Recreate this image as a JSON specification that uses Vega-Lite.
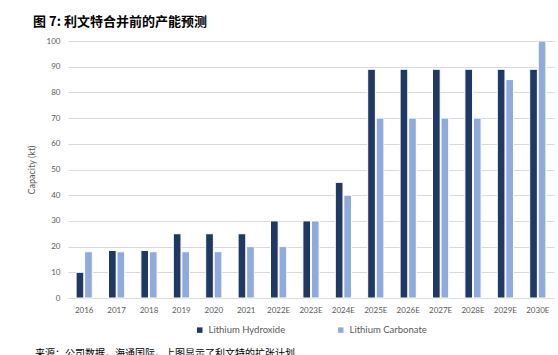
{
  "$schema": "https://vega.github.io/schema/vega-lite/v6.json",
  "background": "white",
  "padding": {"left": 27, "top": 16, "right": 5, "bottom": 0},
  "title": {"text": "图 7: 利文特合并前的产能预测", "anchor": "start", "dx": 6, "font": "Noto Sans CJK SC", "fontSize": 13, "fontWeight": "bold", "color": "#000000", "offset": 8},
  "config": {
    "view": {"stroke": null},
    "font": "Lato",
    "concat": {"spacing": 0},
    "legend": {"layout": {"bottom": {"anchor": "middle"}}}
  },
  "resolve": {"scale": {"color": "independent"}},
  "vconcat": [
    {
      "title": {"text": "来源：公司数据，海通国际。上图显示了利文特的扩张计划", "orient": "bottom", "anchor": "start", "dx": 8, "font": "Noto Sans CJK SC", "fontSize": 10, "fontWeight": "normal", "color": "#000000", "offset": 14},
      "resolve": {"scale": {"color": "independent"}},
      "vconcat": [
        {
          "width": 486,
          "height": 257,
          "data": {"values": [
            {"year": "2016", "type": "Lithium Hydroxide", "v": 10},
            {"year": "2016", "type": "Lithium Carbonate", "v": 18},
            {"year": "2017", "type": "Lithium Hydroxide", "v": 18.5},
            {"year": "2017", "type": "Lithium Carbonate", "v": 18},
            {"year": "2018", "type": "Lithium Hydroxide", "v": 18.5},
            {"year": "2018", "type": "Lithium Carbonate", "v": 18},
            {"year": "2019", "type": "Lithium Hydroxide", "v": 25},
            {"year": "2019", "type": "Lithium Carbonate", "v": 18},
            {"year": "2020", "type": "Lithium Hydroxide", "v": 25},
            {"year": "2020", "type": "Lithium Carbonate", "v": 18},
            {"year": "2021", "type": "Lithium Hydroxide", "v": 25},
            {"year": "2021", "type": "Lithium Carbonate", "v": 20},
            {"year": "2022E", "type": "Lithium Hydroxide", "v": 30},
            {"year": "2022E", "type": "Lithium Carbonate", "v": 20},
            {"year": "2023E", "type": "Lithium Hydroxide", "v": 30},
            {"year": "2023E", "type": "Lithium Carbonate", "v": 30},
            {"year": "2024E", "type": "Lithium Hydroxide", "v": 45},
            {"year": "2024E", "type": "Lithium Carbonate", "v": 40},
            {"year": "2025E", "type": "Lithium Hydroxide", "v": 89},
            {"year": "2025E", "type": "Lithium Carbonate", "v": 70},
            {"year": "2026E", "type": "Lithium Hydroxide", "v": 89},
            {"year": "2026E", "type": "Lithium Carbonate", "v": 70},
            {"year": "2027E", "type": "Lithium Hydroxide", "v": 89},
            {"year": "2027E", "type": "Lithium Carbonate", "v": 70},
            {"year": "2028E", "type": "Lithium Hydroxide", "v": 89},
            {"year": "2028E", "type": "Lithium Carbonate", "v": 70},
            {"year": "2029E", "type": "Lithium Hydroxide", "v": 89},
            {"year": "2029E", "type": "Lithium Carbonate", "v": 85},
            {"year": "2030E", "type": "Lithium Hydroxide", "v": 89},
            {"year": "2030E", "type": "Lithium Carbonate", "v": 100}
          ]},
          "mark": {"type": "bar", "stroke": "white", "strokeWidth": 1},
          "encoding": {
            "x": {"field": "year", "type": "nominal", "sort": null,
                  "scale": {"paddingInner": 0.5, "paddingOuter": 0.25},
                  "axis": {"title": null, "labelAngle": 0, "labelFont": "Lato", "labelFontSize": 8, "labelColor": "#595959", "ticks": false, "domain": false, "labelPadding": 8}},
            "xOffset": {"field": "type", "type": "nominal", "sort": ["Lithium Hydroxide", "Lithium Carbonate"], "scale": {"paddingInner": 0.1}},
            "y": {"field": "v", "type": "quantitative",
                  "scale": {"domain": [0, 100], "nice": false},
                  "axis": {"title": "Capacity (kt)", "titleFont": "Lato", "titleFontSize": 9, "titleFontWeight": "normal", "titleColor": "#595959", "titlePadding": 10,
                           "values": [0, 10, 20, 30, 40, 50, 60, 70, 80, 90, 100],
                           "labelFont": "Lato", "labelFontSize": 8, "labelColor": "#595959", "labelPadding": 8,
                           "ticks": false, "domain": false, "gridColor": "#d9d9d9", "gridWidth": 1}},
            "color": {"field": "type", "type": "nominal",
                      "scale": {"domain": ["Lithium Hydroxide", "Lithium Carbonate"], "range": ["#1f3864", "#8faadc"]},
                      "legend": {"title": null, "orient": "bottom", "direction": "horizontal", "symbolType": "square", "symbolSize": 30, "symbolStrokeWidth": 0, "labelOffset": 4, "labelFont": "Lato", "labelFontSize": 9.5, "labelColor": "#595959", "columnPadding": 50, "offset": 11}}
          }
        }
      ]
    }
  ]
}
